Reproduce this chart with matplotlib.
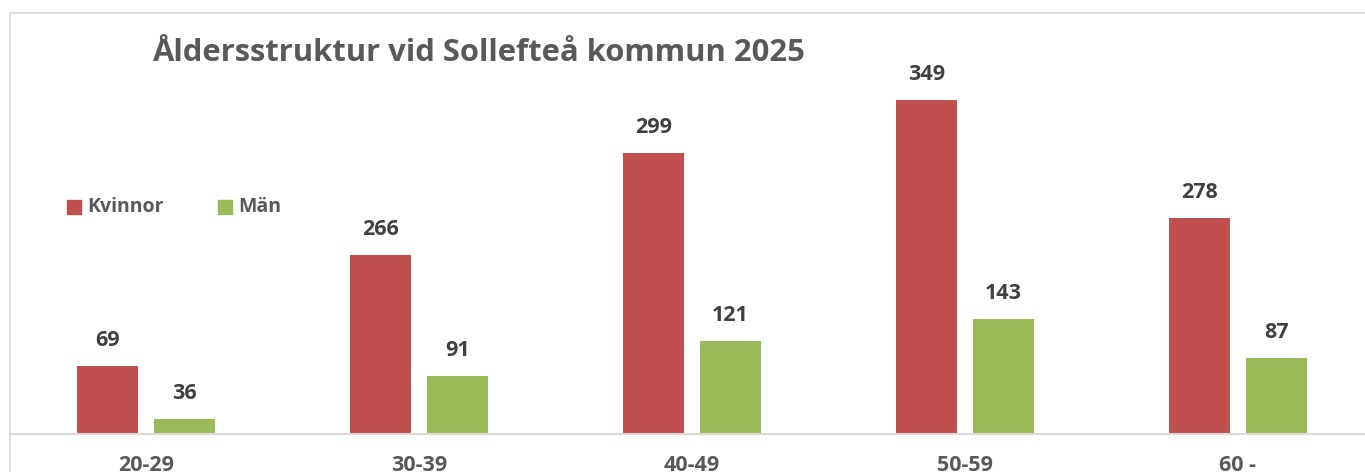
import matplotlib
matplotlib.use("Agg")
import matplotlib.pyplot as plt
import numpy as np
from matplotlib.lines import Line2D
from matplotlib.patches import Rectangle

plt.rcParams['font.family'] = ['Open Sans', 'DejaVu Sans']

categories = ['20-29', '30-39', '40-49', '50-59', '60 -']
# bar heights as drawn in the picture
kvinnor = [70.6, 186.8, 293.0, 349.0, 225.0]
man = [15.2, 60.2, 96.3, 119.3, 78.5]
# printed data labels
kvinnor_labels = ['69', '266', '299', '349', '278']
man_labels = ['36', '91', '121', '143', '87']

red = '#C0504D'
green = '#9BBB59'
gray = '#595959'
dark = '#404040'
line = '#D9D9D9'

W, H = 1365, 472
fig = plt.figure(figsize=(W / 100, H / 100), dpi=100)
ax = fig.add_axes([0, 0, 1, 1])
ax.set_xlim(-0.535, 4.467)
ax.set_ylim(-40.3, 453.6)
ax.axis('off')

x = np.arange(len(categories))
w = 0.2235
off = 0.141
ax.bar(x - off, kvinnor, w, color=red, edgecolor='none')
ax.bar(x + off, man, w, color=green, edgecolor='none')

for i in range(len(categories)):
    ax.text(x[i] - off, kvinnor[i] + 27, kvinnor_labels[i], ha='center', va='center',
            fontsize=15.5, fontweight='bold', color=dark)
    ax.text(x[i] + off, man[i] + 27, man_labels[i], ha='center', va='center',
            fontsize=15.5, fontweight='bold', color=dark)
    ax.text(x[i], -33, categories[i], ha='center', va='center',
            fontsize=15.5, fontweight='bold', color=gray)

# axis line
fig.add_artist(Line2D([10 / W, 1], [1 - 434 / H, 1 - 434 / H], color=line, lw=1.5))
# chart frame
fig.add_artist(Line2D([9.5 / W, 9.5 / W], [0, 1 - 12.5 / H], color=line, lw=1.2))
fig.add_artist(Line2D([9.5 / W, 1], [1 - 12.5 / H, 1 - 12.5 / H], color=line, lw=1.2))

fig.text(152 / W, 1 - 61 / H, 'Åldersstruktur vid Sollefteå kommun 2025', ha='left', va='baseline',
         fontsize=22.3, fontweight='bold', color=gray)

# legend
fig.add_artist(Rectangle((67 / W, 1 - 214 / H), 14 / W, 14 / H, color=red, transform=fig.transFigure))
fig.text(87 / W, 1 - 207 / H, 'Kvinnor', ha='left', va='center', fontsize=14, fontweight='bold', color=gray)
fig.add_artist(Rectangle((218 / W, 1 - 214 / H), 14 / W, 14 / H, color=green, transform=fig.transFigure))
fig.text(238 / W, 1 - 207 / H, 'Män', ha='left', va='center', fontsize=14, fontweight='bold', color=gray)

fig.savefig('out.png', dpi=100, facecolor='white')
